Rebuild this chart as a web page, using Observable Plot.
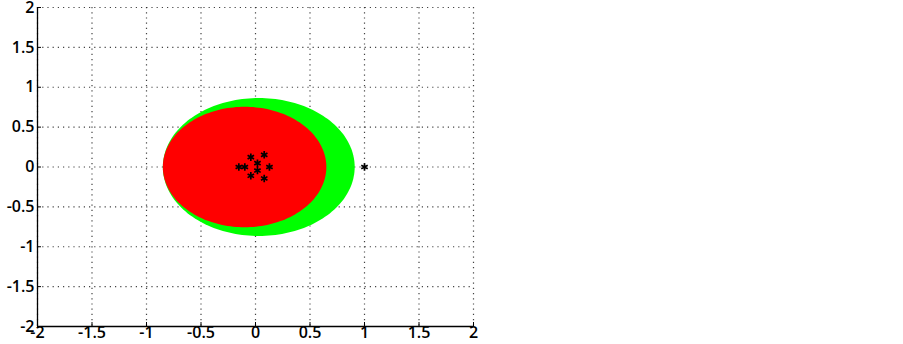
<!DOCTYPE html>
<html>
<head>
<meta charset="utf-8">
<script src="https://cdn.jsdelivr.net/npm/d3@7"></script>
<script src="https://cdn.jsdelivr.net/npm/@observablehq/plot@0.6"></script>
<style>
  body { margin: 0; background: #fff; }
  #chart svg { display: block; }
  #chart svg text { font-size: 16px !important; font-weight: 600 !important; }
</style>
</head>
<body>
<div id="chart"></div>
<script>
// Tick values
const xTicks = [-2, -1.5, -1, -0.5, 0, 0.5, 1, 1.5, 2];
const yTicks = [-2, -1.5, -1, -0.5, 0, 0.5, 1, 1.5, 2];

// Regions: center and radii (data units)
const greenRegion = { cx: 0.03, cy: 0, rx: 0.88, ry: 0.865 };
const redRegion = { cx: -0.1, cy: 0, rx: 0.75, ry: 0.755 };

// Cluster points (asterisk markers)
const clusterX = [-0.043, 0.08, 0.018, -0.153, -0.098, 0.128, 0.018, -0.043, 0.08];
const clusterY = [0.123, 0.153, 0.048, 0, 0, 0, -0.044, -0.11, -0.144];
// Isolated point
const outlierX = [1.0];
const outlierY = [0];

const points = clusterX.map((x, i) => ({ x, y: clusterY[i] }))
  .concat(outlierX.map((x, i) => ({ x, y: outlierY[i] })));

// outline of an ellipse region for drawing
function outline(e) {
  const n = 180;
  return d3.range(n).map(i => {
    const t = (2 * Math.PI * i) / n;
    return { x: e.cx + e.rx * Math.cos(t), y: e.cy + e.ry * Math.sin(t) };
  });
}

const font = "Open Sans, Liberation Sans, sans-serif";

const chart = Plot.plot({
  width: 903,
  height: 344,
  marginLeft: 37,
  marginRight: 430,
  marginTop: 7,
  marginBottom: 18,
  style: { fontFamily: font, fontSize: "16px", background: "#fff", color: "#000" },
  x: { domain: [-2, 2], label: null },
  y: { domain: [-2, 2], label: null },
  marks: [
    Plot.gridX(xTicks, { stroke: "#222", strokeOpacity: 0.85, strokeWidth: 1.2, strokeDasharray: "1.2,4" }),
    Plot.gridY(yTicks, { stroke: "#222", strokeOpacity: 0.85, strokeWidth: 1.2, strokeDasharray: "1.2,4" }),
    Plot.line(outline(greenRegion), { x: "x", y: "y", curve: "linear-closed", fill: "#00ff00", stroke: "none" }),
    Plot.line(outline(redRegion), { x: "x", y: "y", curve: "linear-closed", fill: "#ff0000", stroke: "none" }),
    Plot.dot(points, { x: "x", y: "y", symbol: "asterisk", r: 3.5, stroke: "#000", strokeWidth: 1.7 }),
    Plot.ruleX([-2], { stroke: "#000", strokeWidth: 1.3 }),
    Plot.ruleY([-2], { stroke: "#000", strokeWidth: 1.3 }),
    Plot.axisX(xTicks, { tickSize: 4, dy: -4, text: null, stroke: "#000", label: null }),
    Plot.axisY(yTicks, { tickSize: 4, dx: 4, text: null, stroke: "#000", label: null }),
    Plot.axisX(xTicks, { tickSize: 0, tickPadding: 0, tickFormat: d => String(d), fill: "#000", label: null }),
    Plot.axisY(yTicks, { tickSize: 0, tickPadding: 3, tickFormat: d => String(d), fill: "#000", label: null })
  ]
});
document.getElementById("chart").appendChild(chart);
</script>
</body>
</html>
